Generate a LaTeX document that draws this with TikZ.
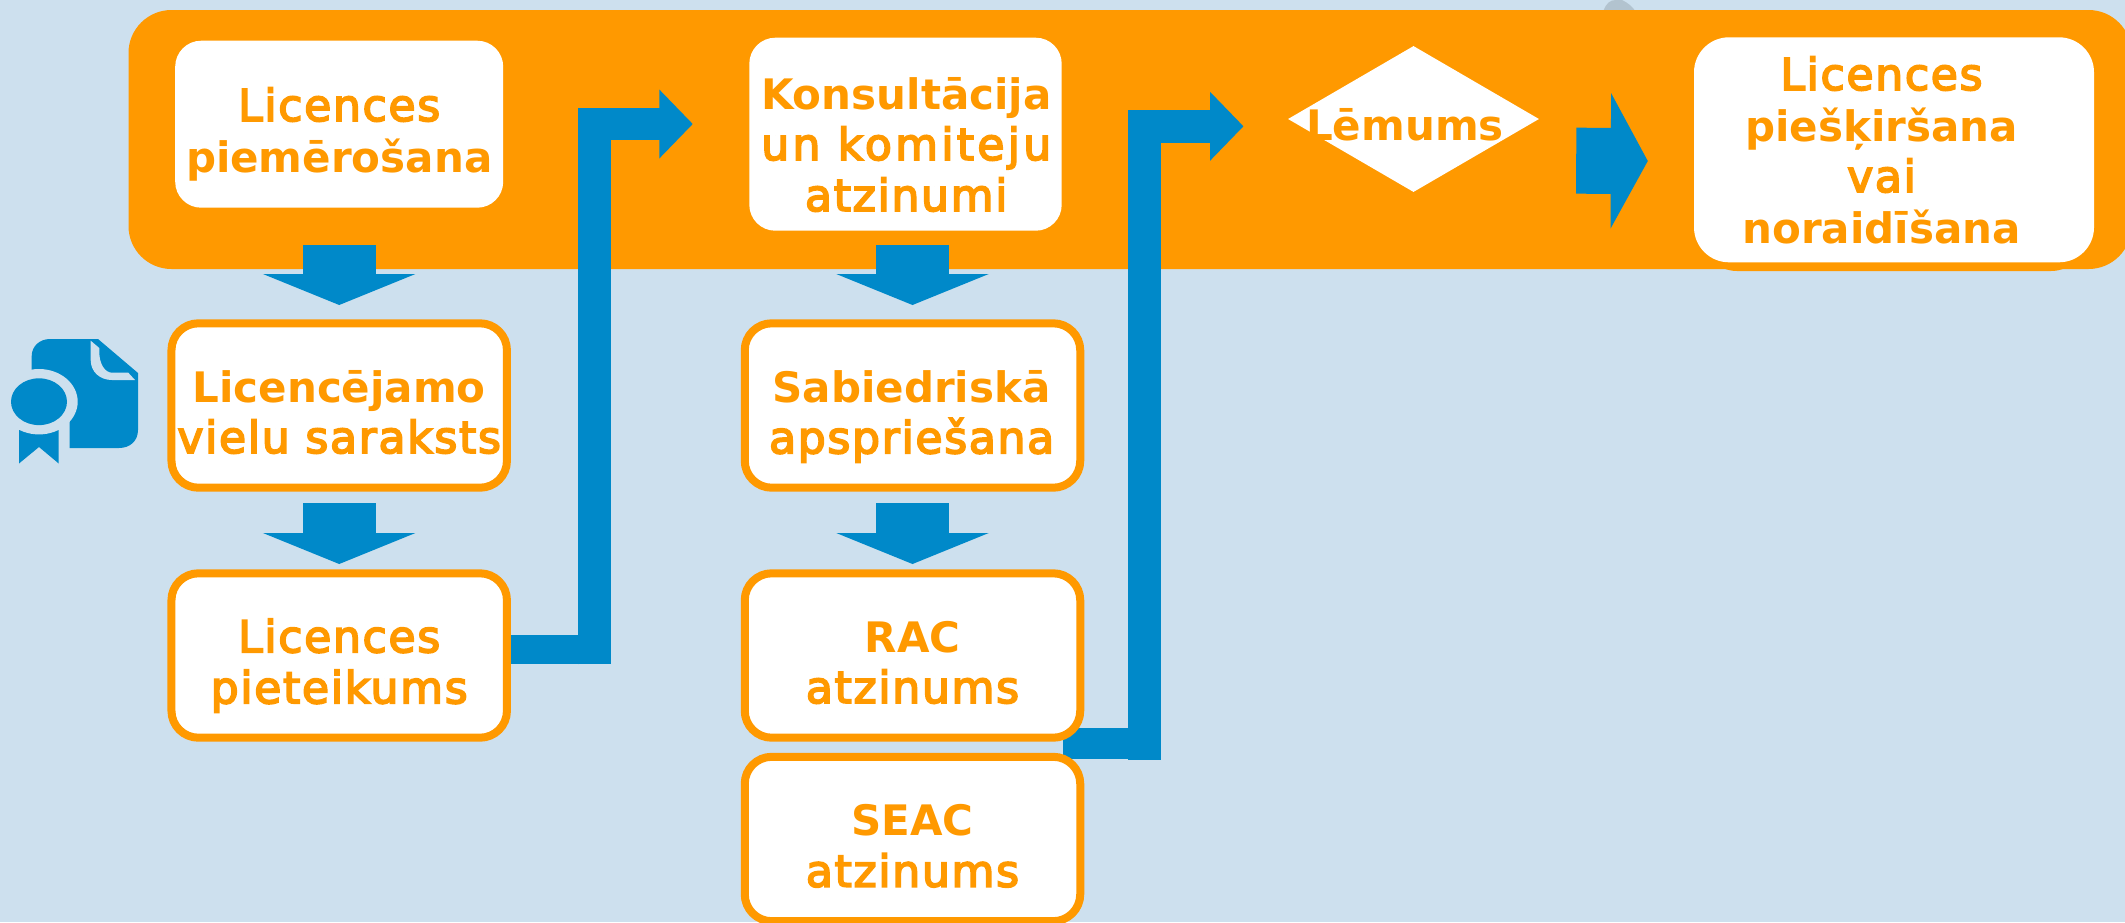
\documentclass[tikz,border=0pt]{standalone}
\usepackage{fontspec}
\setmainfont{DejaVu Sans}
\newfontfamily\medf[LetterSpace=3.9,FakeBold=4,Scale=1.0476]{DejaVu Sans}
\newfontfamily\medw[LetterSpace=7.5,FakeBold=4,Scale=1.0476]{DejaVu Sans}
\usetikzlibrary{arrows.meta,shapes.geometric,calc}
\definecolor{bgc}{HTML}{CDE0EE}
\definecolor{org}{HTML}{FF9900}
\definecolor{blu}{HTML}{0089C9}
\pgfdeclarelayer{under}
\pgfsetlayers{under,main}
% lines of a box: x offset, raise of the last baseline above the node centre, lines
\newcommand{\boxlines}[3]{\raisebox{#2}[0pt][0pt]{\hspace*{#1}\makebox[0pt]{\begin{tabular}[b]{@{}c@{}}#3\end{tabular}}}}
\tikzset{
  x=1pt,y=-1pt,
  txt/.style={font=\fontsize{42}{51}\selectfont,text=org},
  whitebox/.style={txt,fill=white,rounded corners=26pt,inner sep=0pt,anchor=center},
  ringbox/.style={whitebox,draw=org,line width=8pt,rounded corners=27pt,minimum width=335.5pt,minimum height=164.4pt},
  downarrow/.style={blu,line width=73.2pt,-{Triangle[length=31pt,width=151.5pt]}},
  bentarrow/.style={blu,line width=32.4pt,line join=miter,-{Triangle[length=33.5pt,width=67pt]}},
}
\begin{document}
\begin{tikzpicture}
\useasboundingbox (0,0) rectangle (2125,922);
% top row
\node[whitebox,minimum width=328pt,minimum height=167pt] (apply) at (339.2,124.2) {\boxlines{0pt}{-47.8pt}{\medf Licences\\\bfseries piemērošana}};
\node[whitebox,minimum width=312.4pt,minimum height=193pt] (consult) at (905.5,134.2) {\boxlines{1.5pt}{-76.8pt}{\bfseries Konsultācija\\\medw un komiteju\\\medf atzinumi}};
\node[diamond,fill=white,aspect=1.72,minimum width=251pt,minimum height=146pt,inner sep=0pt] (decision) at (1413.5,119) {};
\node[txt,inner sep=0pt,anchor=base] (decisiontext) at (1405,140) {\bfseries Lēmums};
\node[whitebox,rounded corners=35pt,minimum width=400pt,minimum height=225pt] (grant) at (1894,149.8) {\boxlines{-25pt}{-93.2pt}{\medf Licences\\\bfseries piešķiršana\\\medf vai\\\bfseries noraidīšana}};
% rings
\node[ringbox] (list) at (339.2,405.5) {\boxlines{0pt}{-47.5pt}{\bfseries Licencējamo\\\medf vielu saraksts}};
\node[ringbox] (appl) at (339.2,655.5) {\boxlines{0pt}{-47.8pt}{\medf Licences\\\medf pieteikums}};
\node[ringbox] (public) at (912.5,405.5) {\boxlines{-1.7pt}{-47.8pt}{\bfseries Sabiedriskā\\\medf apspriešana}};
\node[ringbox] (rac) at (912.5,655.5) {\boxlines{0pt}{-47.5pt}{\bfseries RAC\\\medf atzinums}};
\node[ringbox] (seac) at (912.5,839) {\boxlines{0pt}{-47.7pt}{\bfseries SEAC\\\medf atzinums}};
% icon
\fill[blu] (31.7,375) -- (31.7,356) .. controls (31.7,346) and (40,339) .. (50,339) -- (98,339) -- (138,373) -- (138,430) .. controls (138,441) and (130,448) .. (119,448) -- (69.7,448) -- (69.7,415) -- cycle;
\fill[bgc] (90.7,340.7) -- (90.7,360) .. controls (90.7,372) and (100,380) .. (112,380) -- (135,380) -- (128.3,372.7) -- (112,372.7) .. controls (105,372.7) and (99.3,364) .. (99.3,352) -- (99.3,348) -- cycle;
\fill[blu] (19,428) -- (58.7,428) -- (58.7,463.5) -- (39,447) -- (19,463.5) -- cycle;
\fill[bgc] (39,401.7) ellipse [x radius=38.7,y radius=32.7];
\fill[blu] (39,401.7) ellipse [x radius=28,y radius=23.4];
% everything below the boxes
\begin{pgfonlayer}{under}
\fill[bgc] (0,0) rectangle (2125,922);
\fill[blu!10!gray!30!bgc] (1603,12) .. controls (1606,3) and (1610,0) .. (1616,0) -- (1622,0) .. controls (1628,3) and (1632,6) .. (1636,12) -- cycle;
\node[fill=org,rounded corners=43pt,minimum width=2003pt,minimum height=259pt,inner sep=0pt] (band) at (1130,139.5) {};
\node[fill=org,rounded corners=35pt,minimum width=384pt,minimum height=100pt,inner sep=0pt] (lastshadow) at (1894,221) {};
% connectors
\draw[downarrow,shorten <=37.3pt,shorten >=14.3pt] (apply.south) -- (list.north);
\draw[downarrow,shorten <=11.6pt,shorten >=5.3pt] (list.south) -- (appl.north);
\draw[downarrow,shorten <=14.3pt,shorten >=14.3pt] (consult.south -| public.north) -- (public.north);
\draw[downarrow,shorten <=11.6pt,shorten >=5.3pt] (public.south) -- (rac.north);
% bent arrow from the application to the consultation
\coordinate (elbow1) at (594.5,664.3);
\coordinate (end1) at ($(consult.west)+(0,-10.2)$);
\coordinate (stub1) at ($(appl.east)+(0,-5.8)$);
\draw[blu,line width=29.3pt] (stub1) -- (stub1 -| 610.7,0);
\draw[bentarrow,shorten >=56.3pt] (elbow1) -- (elbow1 |- end1) -- (end1);
% bent arrow from the opinions to the decision
\coordinate (elbow2) at (1144.5,759.5);
\coordinate (end2) at ($(decision.west)+(0,7.3)$);
\coordinate (stub2) at ($(rac.south east)!0.5!(seac.north east)+(-21,-3.6)$);
\draw[blu,line width=31.5pt] (stub2) -- (stub2 -| 1160.7,0);
\draw[bentarrow,shorten >=44.3pt] (elbow2) -- (elbow2 |- end2) -- (end2);
% arrow from the decision to the grant
\draw[blu,line width=66pt,-{Triangle[length=37pt,width=134pt]}] ($(decision.east)+(37,41.7)$) -- ($(grant.west)+(-46,11.2)$);
\end{pgfonlayer}
\end{tikzpicture}
\end{document}
